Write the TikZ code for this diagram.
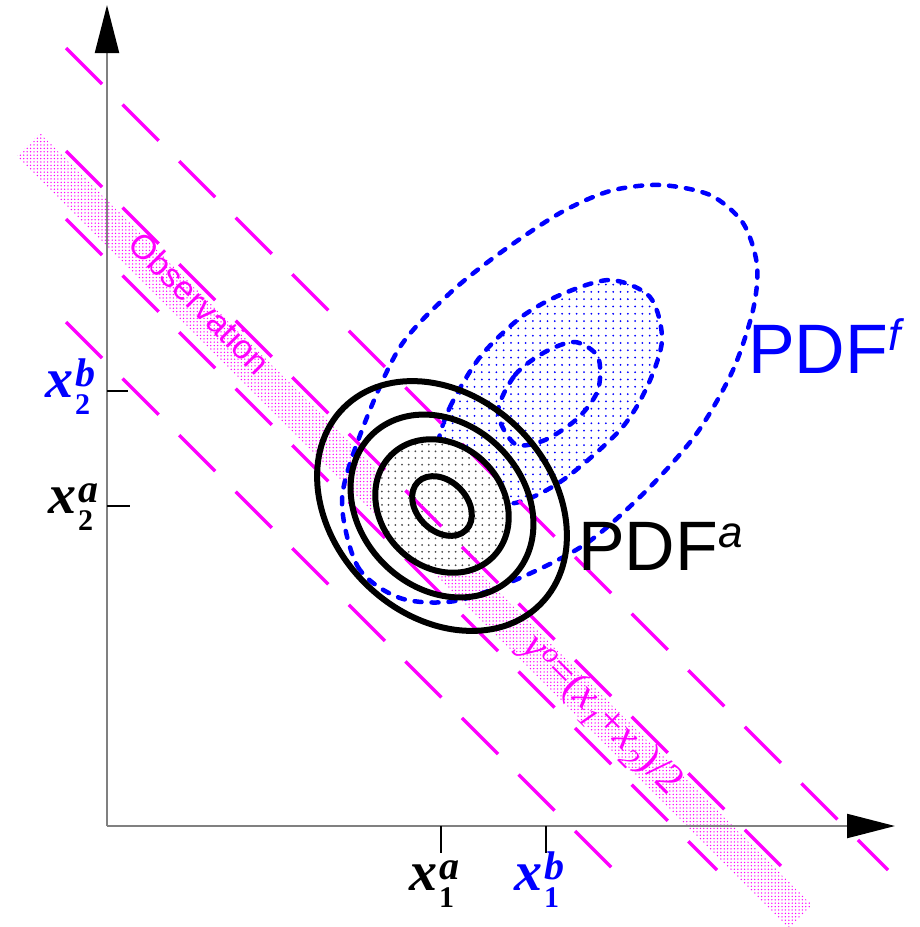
\documentclass[tikz,border=0pt]{standalone}
\usepackage{fontspec}
\setmainfont{Liberation Sans}
\newfontfamily\timesfont{Liberation Serif}
\usetikzlibrary{arrows.meta,patterns}
\definecolor{obsmag}{RGB}{255,0,255}
\definecolor{fcblue}{RGB}{0,0,255}

\pgfdeclarepatternformonly{pinkdots}{\pgfqpoint{-1pt}{-1pt}}{\pgfqpoint{1pt}{1pt}}{\pgfqpoint{3.4pt}{3.4pt}}{%
  \pgfpathcircle{\pgfpointorigin}{0.75pt}\pgfusepath{fill}}
\pgfdeclarepatternformonly{bluedots}{\pgfqpoint{-1.5pt}{-1.5pt}}{\pgfqpoint{1.5pt}{1.5pt}}{\pgfqpoint{7.3pt}{7.3pt}}{%
  \pgfpathcircle{\pgfpointorigin}{1pt}\pgfusepath{fill}}
\pgfdeclarepatternformonly{graydots}{\pgfqpoint{-1.5pt}{-1.5pt}}{\pgfqpoint{1.5pt}{1.5pt}}{\pgfqpoint{6.7pt}{6.7pt}}{%
  \pgfpathcircle{\pgfpointorigin}{1pt}\pgfusepath{fill}}

% bold italic tick label x with stacked sub/sup
\newcommand{\xlab}[2]{{\timesfont\bfseries\itshape\fontsize{56}{56}\selectfont x\kern2pt%
  \rlap{\raisebox{11pt}{\fontsize{40}{40}\selectfont #1}}%
  \raisebox{-17pt}{\upshape\fontsize{30}{30}\selectfont #2}}}
\newcommand{\pdfsup}[1]{\raisebox{23pt}{\fontsize{44}{44}\selectfont\itshape #1}}

\begin{document}
\begin{tikzpicture}[x=1pt, y=-1pt,
  axisline/.style={draw=gray, line width=2.2pt},
  tickmark/.style={draw=black, line width=1.5pt},
  guide/.style={draw=obsmag, line width=3.5pt, dash pattern=on 51pt off 29pt},
  fcst/.style={draw=fcblue, line width=4.5pt, line cap=round, dash pattern=on 7pt off 10pt},
  anal/.style={draw=black, line width=6pt},
  ticklabel/.style={inner sep=0pt, anchor=base west},
  pdflabel/.style={inner sep=0pt, anchor=base west, font=\fontsize{70}{70}\selectfont}]

  \useasboundingbox (0,0) rectangle (920,927);

  \coordinate (O) at (107,826);
  \coordinate (ytop) at (107,5);
  \coordinate (xright) at (895,826);
  \coordinate (ca) at (442,506);

  %% observation band
  \fill[pattern=pinkdots, pattern color=obsmag] (40,133) -- (812,905) -- (789,928) -- (17,156) -- cycle;

  %% forecast pdf
  \fill[pattern=bluedots, pattern color=fcblue] plot[smooth cycle] coordinates {(438,445) (450,407) (480,357) (520,318) (560,295) (610,280) (650,297) (662,340) (647,387) (620,430) (563,480) (515,503) (470,497) (445,475)};
  \draw[fcst] plot[smooth cycle] coordinates {(342,500) (358,567) (400,598) (455,601) (520,578) (587,543) (647,490) (697,433) (733,370) (753,310) (757,265) (743,223) (710,195) (660,185) (610,191) (560,213) (500,253) (450,293) (400,347) (362,430)};
  \draw[fcst] plot[smooth cycle] coordinates {(438,445) (450,407) (480,357) (520,318) (560,295) (610,280) (650,297) (662,340) (647,387) (620,430) (563,480) (515,503) (470,497) (445,475)};
  \draw[fcst] plot[smooth cycle] coordinates {(498,412) (515,375) (545,352) (575,342) (598,357) (598,390) (578,418) (545,440) (515,444)};

  %% analysis pdf
  \fill[white, rotate around={-45:(ca)}] (ca) ellipse [x radius=72pt, y radius=61pt];
  \fill[pattern=graydots, pattern color=black!70, rotate around={-45:(ca)}] (ca) ellipse [x radius=72pt, y radius=61pt];

  %% observation error lines
  \foreach \c in {-18,85,153,256}
    \draw[guide] (66,{66+\c}) -- ({870-\c},870);

  \foreach \ra/\rb in {34/25,72/61,100/82,139/109}
    \draw[anal, rotate around={-45:(ca)}] (ca) ellipse [x radius=\ra pt, y radius=\rb pt];

  %% axes
  \draw[axisline, -{Triangle[length=48pt, width=24pt, color=black]}] (O) -- (ytop);
  \draw[axisline, -{Triangle[length=48pt, width=24pt, color=black]}] (O) -- (xright);

  \coordinate (t2b) at (107,391);
  \coordinate (t2a) at (107,506);
  \coordinate (t1a) at (441,826);
  \coordinate (t1b) at (546,826);
  \draw[tickmark] (t2b) -- ++(21,0);
  \draw[tickmark] (t2a) -- ++(23,0);
  \draw[tickmark] (t1a) -- ++(0,27);
  \draw[tickmark] (t1b) -- ++(0,27);

  \node[ticklabel, fcblue] (l2b) at (45,397) {\xlab{b}{2}};
  \node[ticklabel] (l2a) at (48,513) {\xlab{a}{2}};
  \node[ticklabel] (l1a) at (409,890) {\xlab{a}{1}};
  \node[ticklabel, fcblue] (l1b) at (514,890) {\xlab{b}{1}};

  %% labels
  \node[obsmag, rotate=-45, font=\fontsize{34}{34}\selectfont] (obs) at (200,303) {Observation};
  \node[obsmag, rotate=-45, font=\timesfont\fontsize{42}{42}\selectfont] (eq) at (601,716)
    {\itshape y\textsuperscript{o}\upshape=(\itshape x\textsubscript{1}\upshape+\itshape x\textsubscript{2}\upshape)/2};
  \node[pdflabel, fcblue] (pdff) at (748,373) {PDF\pdfsup{f}};
  \node[pdflabel] (pdfa) at (578,570) {PDF\pdfsup{a}};

\end{tikzpicture}
\end{document}
